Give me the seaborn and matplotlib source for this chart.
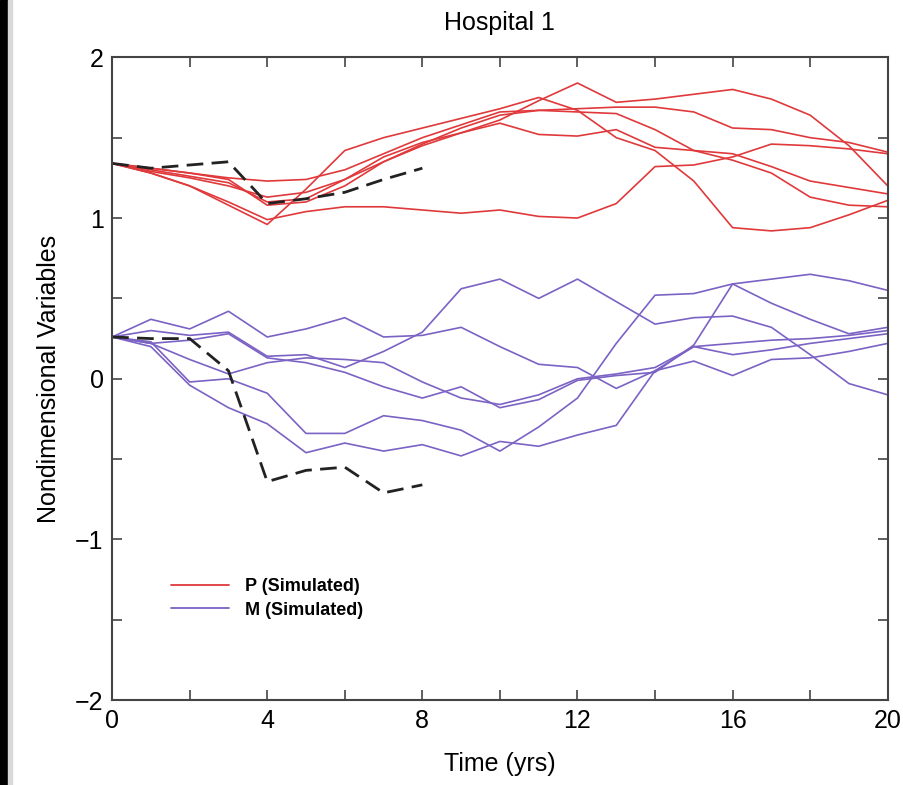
import matplotlib
matplotlib.use("Agg")
import matplotlib.pyplot as plt
import matplotlib.patches as mpatches
from matplotlib.lines import Line2D
from matplotlib.ticker import MultipleLocator
import numpy as np
import pandas as pd
import seaborn as sns

# ---------------- data ----------------
years = list(range(0, 21))
obs_years = list(range(0, 9))

P_sim_1 = [1.34,1.30,1.26,1.22,1.10,1.12,1.24,1.38,1.47,1.53,1.61,1.73,1.84,1.72,1.74,1.77,1.80,1.74,1.64,1.45,1.20]
P_sim_2 = [1.34,1.28,1.20,1.08,0.96,1.18,1.42,1.50,1.56,1.62,1.68,1.75,1.67,1.50,1.42,1.23,0.94,0.92,0.94,1.02,1.11]
P_sim_3 = [1.34,1.31,1.28,1.25,1.23,1.24,1.30,1.40,1.50,1.58,1.66,1.67,1.68,1.69,1.69,1.66,1.56,1.55,1.50,1.47,1.41]
P_sim_4 = [1.34,1.29,1.25,1.20,1.13,1.16,1.24,1.35,1.45,1.53,1.59,1.52,1.51,1.55,1.44,1.42,1.40,1.32,1.23,1.19,1.15]
P_sim_5 = [1.34,1.28,1.20,1.10,0.99,1.04,1.07,1.07,1.05,1.03,1.05,1.01,1.00,1.09,1.32,1.33,1.38,1.46,1.45,1.43,1.40]
P_sim_6 = [1.34,1.31,1.28,1.24,1.08,1.10,1.20,1.35,1.46,1.56,1.64,1.67,1.66,1.65,1.55,1.42,1.36,1.28,1.13,1.08,1.07]

M_sim_1 = [0.26,0.37,0.31,0.42,0.26,0.31,0.38,0.26,0.27,0.32,0.20,0.09,0.07,-0.06,0.05,0.20,0.15,0.18,0.22,0.25,0.28]
M_sim_2 = [0.26,0.30,0.27,0.29,0.14,0.15,0.07,0.17,0.29,0.56,0.62,0.50,0.62,0.48,0.34,0.38,0.39,0.32,0.15,-0.03,-0.10]
M_sim_3 = [0.26,0.22,0.12,0.03,0.10,0.13,0.12,0.10,-0.02,-0.12,-0.16,-0.10,0.00,0.03,0.07,0.20,0.22,0.24,0.25,0.27,0.30]
M_sim_4 = [0.26,0.20,-0.04,-0.18,-0.28,-0.46,-0.40,-0.45,-0.41,-0.48,-0.39,-0.42,-0.35,-0.29,0.05,0.11,0.02,0.12,0.13,0.17,0.22]
M_sim_5 = [0.26,0.23,-0.02,0.00,-0.09,-0.34,-0.34,-0.23,-0.26,-0.32,-0.45,-0.30,-0.12,0.22,0.52,0.53,0.59,0.62,0.65,0.61,0.55]
M_sim_6 = [0.26,0.22,0.24,0.28,0.13,0.10,0.04,-0.05,-0.12,-0.05,-0.18,-0.13,-0.01,0.02,0.04,0.21,0.59,0.47,0.37,0.28,0.32]

P_obs = [1.34,1.31,1.33,1.35,1.09,1.12,1.16,1.24,1.31]
M_obs = [0.26,0.25,0.25,0.05,-0.64,-0.57,-0.55,-0.71,-0.66]

P_runs = [P_sim_1, P_sim_2, P_sim_3, P_sim_4, P_sim_5, P_sim_6]
M_runs = [M_sim_1, M_sim_2, M_sim_3, M_sim_4, M_sim_5, M_sim_6]

title = "Hospital 1"
xlabel = "Time (yrs)"
ylabel = "Nondimensional Variables"
legend_labels = ["P (Simulated)", "M (Simulated)"]

# ---------------- build long-form table ----------------
rows = []
for i, r in enumerate(P_runs):
    for t, v in zip(years, r):
        rows.append(("P", f"P{i}", t, v))
for i, r in enumerate(M_runs):
    for t, v in zip(years, r):
        rows.append(("M", f"M{i}", t, v))
sim = pd.DataFrame(rows, columns=["var", "run", "t", "v"])

obs = pd.DataFrame({"t": obs_years * 2, "v": P_obs + M_obs,
                    "var": ["P"] * len(P_obs) + ["M"] * len(M_obs)})

# ---------------- plot ----------------
sns.set_style("white")
plt.rcParams["font.family"] = ["Liberation Sans", "DejaVu Sans"]
plt.rcParams["text.color"] = "black"
plt.rcParams["axes.labelcolor"] = "black"
plt.rcParams["xtick.color"] = "black"
plt.rcParams["ytick.color"] = "black"

red = "#e0393b"
purple = "#7b62c4"

fig = plt.figure(figsize=(9.04, 7.85), dpi=100)
ax = fig.add_axes([0.124, 0.108, 0.858, 0.819])

sns.lineplot(data=sim, x="t", y="v", hue="var", units="run", estimator=None,
             palette={"P": red, "M": purple}, lw=1.2, ax=ax, legend=False)
sns.lineplot(data=obs, x="t", y="v", units="var", estimator=None,
             color="#222222", lw=2.0, ax=ax, legend=False,
             linestyle=(0, (6, 3)))

ax.set_xlim(0, 20)
ax.set_ylim(-2, 2)
ax.xaxis.set_major_locator(MultipleLocator(4))
ax.xaxis.set_minor_locator(MultipleLocator(2))
ax.yaxis.set_major_locator(MultipleLocator(1))
ax.yaxis.set_minor_locator(MultipleLocator(0.5))
ax.tick_params(which="both", direction="in", top=True, right=True,
               bottom=True, left=True, length=7, width=1.2, color="#444444")
ax.tick_params(which="major", labelsize=18, pad=6, labelcolor="black")
for s in ax.spines.values():
    s.set_color("#444444")
    s.set_linewidth(1.5)

ax.set_title(title, fontsize=18, pad=20, color="black")
ax.set_xlabel(xlabel, fontsize=18, labelpad=14)
ax.set_ylabel(ylabel, fontsize=18, labelpad=10)

handles = [Line2D([0], [0], color=red, lw=1.3),
           Line2D([0], [0], color=purple, lw=1.3)]
leg = ax.legend(handles, legend_labels, loc="upper left",
                bbox_to_anchor=(0.055, 0.215), frameon=False,
                prop={"size": 13, "weight": "bold"}, handlelength=3.2,
                labelspacing=0.35, handletextpad=0.9)
for txt in leg.get_texts():
    txt.set_color("black")

# border strips from the scanned figure
fig.patches.append(mpatches.Rectangle((0, 0), 8 / 904, 1, transform=fig.transFigure,
                                      color="black", zorder=10))
fig.patches.append(mpatches.Rectangle((8 / 904, 0), 4 / 904, 1, transform=fig.transFigure,
                                      color="#d8d8d8", zorder=10))

fig.savefig("out.png", dpi=100)
